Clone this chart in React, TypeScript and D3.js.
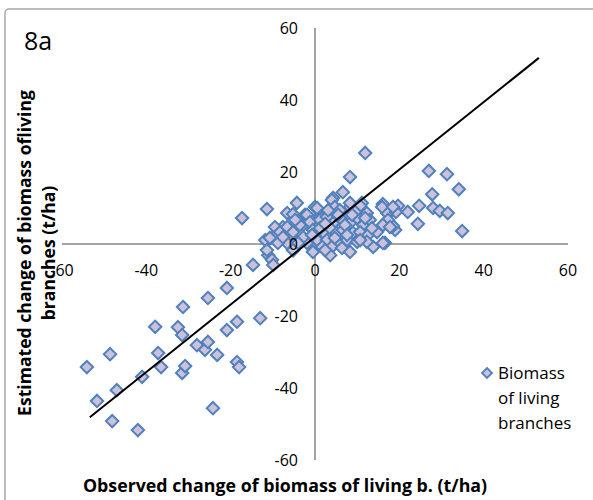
import React from "react";
import * as d3 from "d3";

const xTicks = [-60, -40, -20, 0, 20, 40, 60];
const yTicks = [-60, -40, -20, 0, 20, 40, 60];

const observed = [
  -54.1, -51.7, -48.6, -48.1, -47.0, -42.0, -41.0, -37.9, -37.2, -36.5, -32.5, -31.5, -31.5, -30.8, -31.3,
  -28.0, -26.1, -25.4, -25.4, -24.2, -23.2, -20.9, -20.9, -18.5, -18.5, -18.0, -13.0, -14.7, -11.1, -10.2, -9.9, -5.2,
  -17.3, -11.4, -6.6, -4.3, -7.6, -8.5, -9.9, -11.1, -11.8, -11.4, -5.9, -5.5, -6.6, -4.3, -8.8, -2.8, -2.4, 0.0, -0.7, 1.2, -5.2,
  11.9, 8.3, 27.0, 31.3, 34.1, 27.8, 24.7, 22.0, 19.7, 28.0, 29.6, 31.5, 24.4, 34.9, 16.1, 17.8, 19.0, 16.6, 13.8, 6.6, 4.3, 11.1,
  16.4, 17.1, 18.5, 19.2, 17.3, 11.4, 8.3,
  0.5, 4.0, 4.7, 5.9, 8.3, 10.7, 12.3, 15.9, 18.5, -1.9, -1.2, 1.2, 2.8, 4.3, 6.4, 8.3, 10.0, 11.4, 13.0, 16.1, 17.8,
  -9.5, -8.3, -6.6, -5.2, -7.6, -10.7, -0.5, 1.9, 3.6, 5.2, 6.6, 9.0, 10.7, 12.6, 14.7, 0.5, 2.8, 5.2, 7.6, 10.0, 12.3,
  16.1, -1.9, -2.8, -4.0, 1.7, 4.0, 6.4, -0.5, -5.2, 3.6, 8.3, 2.4,
  1.2, 5.5, 7.1, 9.5, 3.1, -0.7, 11.9, 13.5, 7.6, 4.7, -3.6, -4.7, 2.4, 10.7, 8.8,
];
const estimated = [
  -34.2, -43.6, -30.6, -49.2, -40.6, -51.7, -36.9, -23.0, -30.3, -34.2, -23.1, -25.3, -35.8, -33.9, -17.5,
  -28.1, -29.4, -27.2, -15.0, -45.6, -30.8, -23.9, -12.2, -32.8, -21.6, -34.2, -20.6, -5.8, -3.1, -4.4, -5.8, -1.7,
  7.2, 9.7, 8.6, 11.4, 4.7, 3.3, 1.9, 1.1, 1.1, -1.7, 3.9, 1.9, 0.3, 0.6, 0.3, 5.3, 8.1, 10.3, 6.7, 7.5, 8.3,
  25.3, 18.6, 20.3, 19.4, 15.2, 13.8, 10.6, 8.9, 10.6, 10.0, 9.2, 8.6, 5.6, 3.6, 11.1, 8.9, 3.9, 0.3, -0.8, 14.4, 12.8, 11.4,
  5.6, 8.6, 5.0, 8.9, 6.7, 2.8, 10.3,
  10.0, 12.2, 10.3, 9.4, 11.4, 10.6, 8.6, 10.3, 10.3, 8.1, 6.1, 6.7, 7.5, 5.8, 6.7, 5.8, 7.2, 5.3, 6.7, 5.3, 4.7,
  4.7, 3.3, 4.7, 3.3, 1.9, 1.7, 3.9, 3.3, 4.4, 3.1, 3.9, 3.1, 3.3, 2.5, 3.3, 1.1, 1.1, 0.6, 1.1, 0.6, 0.6,
  0.3, 0.3, 1.9, 0.3, -0.8, -0.8, -1.1, -2.2, -1.7, -3.1, -2.2, -1.7,
  4.4, 8.1, 5.3, 8.9, 9.4, 2.5, 7.2, 4.4, 2.5, 1.7, 5.3, 6.7, 5.6, 1.1, 8.1,
];

const fitX = [-53.4, 53.1];
const fitY = [-48.1, 51.7];

const seriesName = ["Biomass", "of living", "branches"];
const xTitle = "Observed change of biomass of living b. (t/ha)";
const yTitle = ["Estimated change of biomass ofliving", "branches (t/ha)"];
const panelLabel = "8a";

const W = 593;
const H = 500;
const FONT = "'Open Sans', 'Liberation Sans', sans-serif";

const diamond = (r: number) => `M0,${-r}L${r},0L0,${r}L${-r},0Z`;

export default function App() {
  const x = d3.scaleLinear().domain([-60, 60]).range([62, 568]);
  const y = d3.scaleLinear().domain([-60, 60]).range([460, 28]);
  const line = d3
    .line<number>()
    .x((d) => x(d))
    .y((_, i) => y(fitY[i]));
  const pts = observed.map((v, i) => [v, estimated[i]]);

  return (
    <svg
      width={W}
      height={H}
      style={{ position: "absolute", left: 0, top: 0, background: "#fff" }}
      fontFamily={FONT}
    >
      <rect x={0} y={0} width={W} height={H} fill="#fff" />
      <rect x={5} y={9} width={W + 20} height={H + 20} rx={4} fill="#fff" stroke="#a6a6a6" strokeWidth={1.5} />

      {/* axes */}
      <line x1={x(-60)} x2={x(60)} y1={y(0)} y2={y(0)} stroke="#868686" strokeWidth={1.5} />
      <line x1={x(0)} x2={x(0)} y1={y(-60)} y2={y(60)} stroke="#868686" strokeWidth={1.5} />

      {/* points */}
      <g>
        {pts.map(([a, b], i) => (
          <path
            key={i}
            d={diamond(6.2)}
            transform={`translate(${x(a)},${y(b)})`}
            fill="#ccc1da"
            stroke="#4f81bd"
            strokeWidth={2}
          />
        ))}
      </g>

      {/* fit line */}
      <path d={line(fitX) || ""} fill="none" stroke="#000" strokeWidth={2} />

      {/* tick labels */}
      {xTicks.map((t) => (
        <text key={"x" + t} x={x(t)} y={y(0) + 32} textAnchor="middle" fontSize={16} fill="#000">
          {t}
        </text>
      ))}
      {yTicks.map((t) => (
        <text key={"y" + t} x={298} y={y(t)} dy="0.35em" textAnchor="end" fontSize={16} fill="#000">
          {t}
        </text>
      ))}

      {/* panel label */}
      <text x={24} y={50} fontSize={25} fill="#000">
        {panelLabel}
      </text>

      {/* axis titles */}
      <text x={285} y={492} textAnchor="middle" fontSize={17.8} fontWeight="bold" fill="#000">
        {xTitle}
      </text>
      <g transform="translate(31,253) rotate(-90)">
        <text x={0} y={0} textAnchor="middle" fontSize={17.6} fontWeight="bold" fill="#000">
          {yTitle[0]}
        </text>
        <text x={0} y={24} textAnchor="middle" fontSize={17.6} fontWeight="bold" fill="#000">
          {yTitle[1]}
        </text>
      </g>

      {/* legend */}
      <path d={diamond(5)} transform="translate(487,373)" fill="#ccc1da" stroke="#4f81bd" strokeWidth={1.8} />
      {seriesName.map((s, i) => (
        <text key={s} x={498} y={379 + i * 25} fontSize={17} fill="#000">
          {s}
        </text>
      ))}
    </svg>
  );
}
